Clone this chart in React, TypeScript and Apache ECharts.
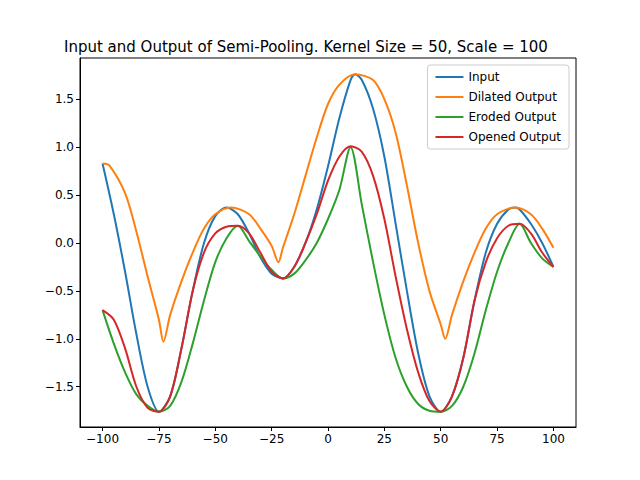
import React, { useEffect, useRef } from "react";
import * as echarts from "echarts";

const inputX = [-100,-95,-90,-85,-80,-75,-70,-65,-60,-55,-50,-45,-40,-35,-30,-25,-20,-15,-10,-5,0,5,10,12,15,20,25,30,35,40,45,50,55,60,65,70,75,80,83,85,90,95,100];
const inputY = [0.83,0.3,-0.3,-0.95,-1.5,-1.76,-1.6,-1.1,-0.5,0.0,0.28,0.37,0.3,0.1,-0.15,-0.32,-0.37,-0.25,0.0,0.35,0.8,1.3,1.7,1.76,1.7,1.4,0.9,0.2,-0.5,-1.15,-1.6,-1.76,-1.6,-1.2,-0.6,-0.1,0.2,0.35,0.37,0.35,0.2,0.0,-0.25];

const dilatedX = [-100,-97,-90,-85,-80,-75,-73,-70,-65,-60,-55,-50,-43,-35,-30,-25,-22,-20,-15,-10,-5,0,5,12,20,25,30,35,40,45,50,52,55,60,65,70,75,83,90,95,100];
const dilatedY = [0.83,0.81,0.52,0.12,-0.35,-0.8,-1.03,-0.75,-0.4,-0.1,0.15,0.3,0.37,0.3,0.15,-0.03,-0.2,-0.05,0.3,0.7,1.1,1.45,1.65,1.76,1.7,1.5,1.15,0.6,0.0,-0.5,-0.85,-1.0,-0.75,-0.4,-0.1,0.15,0.3,0.37,0.3,0.15,-0.05];

const erodedX = [-100,-95,-90,-85,-80,-75,-70,-65,-60,-55,-50,-45,-40,-35,-30,-25,-20,-15,-10,-5,0,5,10,15,20,25,30,35,40,45,50,55,60,65,70,75,80,85,90,95,100];
const erodedY = [-0.7,-1.05,-1.35,-1.58,-1.7,-1.76,-1.7,-1.45,-1.05,-0.6,-0.2,0.05,0.18,0.02,-0.14,-0.28,-0.37,-0.32,-0.18,0.0,0.25,0.55,1.0,0.4,-0.2,-0.75,-1.2,-1.5,-1.68,-1.75,-1.76,-1.7,-1.5,-1.15,-0.7,-0.3,0.0,0.2,0.0,-0.16,-0.25];

const openedX = [-100,-95,-90,-85,-80,-75,-70,-65,-60,-55,-50,-45,-40,-35,-30,-25,-20,-15,-10,-5,0,5,10,15,20,25,30,35,40,45,50,55,60,65,70,75,80,85,90,95,100];
const openedY = [-0.7,-0.8,-1.1,-1.5,-1.72,-1.76,-1.6,-1.1,-0.5,-0.1,0.1,0.17,0.18,0.1,-0.1,-0.3,-0.37,-0.25,0.0,0.3,0.65,0.9,1.01,0.95,0.7,0.25,-0.35,-0.9,-1.35,-1.65,-1.76,-1.6,-1.2,-0.6,-0.2,0.05,0.18,0.2,0.1,-0.1,-0.25];

const xTicks = [-100, -75, -50, -25, 0, 25, 50, 75, 100];
const yTicks = [-1.5, -1.0, -0.5, 0.0, 0.5, 1.0, 1.5];

const names = ["Input", "Dilated Output", "Eroded Output", "Opened Output"];
const colors = ["#1f77b4", "#ff7f0e", "#2ca02c", "#d62728"];

const zip = (xs: number[], ys: number[]) => xs.map((x, i) => [x, ys[i]]);
const minus = (s: string) => s.replace("-", "\u2212");

export default function App() {
  const ref = useRef<HTMLDivElement>(null);
  useEffect(() => {
    const chart = echarts.init(ref.current!, null, { renderer: "svg" });
    const font = "DejaVu Sans";
    const data = [zip(inputX, inputY), zip(dilatedX, dilatedY), zip(erodedX, erodedY), zip(openedX, openedY)];
    chart.setOption({
      animation: false,
      backgroundColor: "#fff",
      textStyle: { fontFamily: font },
      title: {
        text: "Input and Output of Semi-Pooling. Kernel Size = 50, Scale = 100",
        left: 59, top: 34,
        textStyle: { fontFamily: font, fontSize: 15, fontWeight: "normal", color: "#000" },
      },
      legend: {
        orient: "vertical", right: 71, top: 65, data: names,
        itemWidth: 28, itemHeight: 2, itemGap: 8,
        borderColor: "#ccc", borderWidth: 1, borderRadius: 3,
        padding: [6, 8, 6, 8], icon: "rect",
        textStyle: { fontFamily: font, fontSize: 12, color: "#000" },
        backgroundColor: "rgba(255,255,255,0.8)",
      },
      grid: { left: 80, right: 64, top: 58, bottom: 53, show: false },
      xAxis: {
        type: "value", min: -110, max: 110,
        axisLine: { onZero: false, lineStyle: { color: "#000" } },
        splitLine: { show: false },
        axisTick: { customValues: xTicks, length: 4, lineStyle: { color: "#000" } },
        axisLabel: { customValues: xTicks, color: "#000", fontSize: 12, fontFamily: font, margin: 6,
          formatter: (v: number) => minus(String(v)) },
      },
      yAxis: {
        type: "value", min: -1.92, max: 1.93,
        axisLine: { show: true, onZero: false, lineStyle: { color: "#000" } },
        splitLine: { show: false },
        axisTick: { show: true, customValues: yTicks, length: 4, lineStyle: { color: "#000" } },
        axisLabel: { customValues: yTicks, color: "#000", fontSize: 12, fontFamily: font, margin: 6,
          formatter: (v: number) => minus(v.toFixed(1)) },
      },
      graphic: [{ type: "rect", shape: { x: 80, y: 58, width: 496, height: 369 }, style: { fill: "none", stroke: "#000", lineWidth: 1 }, z: 100 }],
      series: names.map((n, i) => ({
        name: n, type: "line", data: data[i], smooth: 0.3, showSymbol: false,
        lineStyle: { color: colors[i], width: 2 }, itemStyle: { color: colors[i] },
      })),
    });
    return () => chart.dispose();
  }, []);
  return <div ref={ref} style={{ position: "fixed", left: 0, top: 0, width: 640, height: 480 }} />;
}
